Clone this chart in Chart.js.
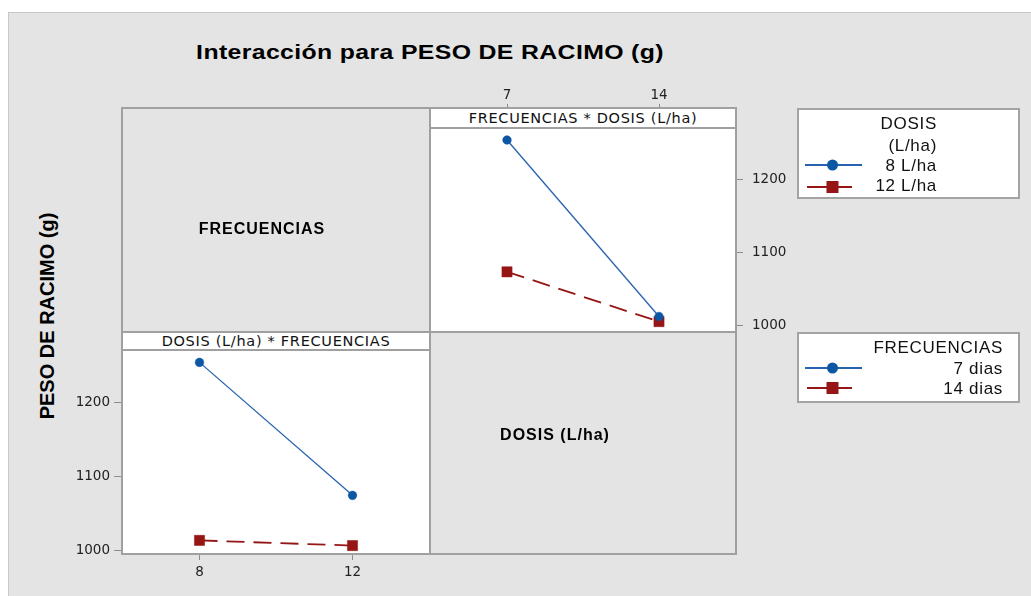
<!DOCTYPE html>
<html lang="es">
<head>
<meta charset="utf-8">
<title>Interacción para PESO DE RACIMO (g)</title>
<script src="https://cdn.jsdelivr.net/npm/chart.js@4.4.1/dist/chart.umd.min.js"></script>
<style>
  html, body { margin: 0; padding: 0; background: #ffffff; }
  body { width: 1031px; height: 596px; position: relative; overflow: hidden;
         font-family: "Liberation Sans", Arial, sans-serif; color: #000; }
  .abs { position: absolute; }
  #panel { left: 8px; top: 12px; width: 1040px; height: 600px; background: #e4e4e4;
           border: 1px solid #c8c8c8; box-sizing: border-box; }
  .plot { background: #ffffff; }
  canvas { position: absolute; }
  #frame { left: 121px; top: 107px; width: 616px; height: 448px; border: 2px solid #a0a0a0;
           box-sizing: border-box; }
  .line { background: #a0a0a0; }
  .strip { background: #ffffff; border-bottom: 2px solid #a0a0a0; box-sizing: content-box;
           font-family: "DejaVu Sans", sans-serif; font-size: 14.5px; letter-spacing: 0.7px;
           color: #111; text-align: center; line-height: 18px; white-space: nowrap; }
  .center { transform: translate(-50%, -50%); white-space: nowrap; line-height: 1; }
  #title { left: 430px; top: 52px; font-size: 20px; font-weight: bold;
           transform: translate(-50%, -50%) scaleX(1.24); letter-spacing: 0.3px; }
  .factor { font-size: 16px; font-weight: bold; letter-spacing: 1px; }
  #ytitle { left: 47px; top: 316px; font-size: 20px; font-weight: bold;
            transform: translate(-50%, -50%) rotate(-90deg); }
  .legbox { left: 797px; width: 223px; background: #fff; border: 2px solid #a3a3a3;
            box-sizing: border-box; }
  .legtxt { font-size: 17px; letter-spacing: 0.7px; line-height: 1; white-space: nowrap;
            transform: translateY(-50%); color: #111; }
</style>
</head>
<body>
<div id="panel" class="abs"></div>

<div id="title" class="abs center">Interacción para PESO DE RACIMO (g)</div>
<div id="ytitle" class="abs center">PESO DE RACIMO (g)</div>

<!-- white plotting regions of the two interaction panels -->
<div class="abs plot" style="left:431px;top:129px;width:304px;height:203px;"></div>
<div class="abs plot" style="left:123px;top:351px;width:306px;height:203px;"></div>

<canvas id="cTR" width="360" height="260" style="left:430px;top:80px;"></canvas>
<canvas id="cBL" width="380" height="250" style="left:60px;top:340px;"></canvas>

<!-- matrix frame -->
<div id="frame" class="abs"></div>
<div class="abs line" style="left:429px;top:107px;width:2px;height:448px;"></div>
<div class="abs line" style="left:121px;top:331px;width:616px;height:2px;"></div>

<div id="stripTR" class="abs strip" style="left:431px;top:109px;width:304px;height:18px;"></div>
<div id="stripBL" class="abs strip" style="left:123px;top:333px;width:306px;height:16px;line-height:16px;"></div>

<div id="labF" class="abs center factor" style="left:262px;top:229px;"></div>
<div id="labD" class="abs center factor" style="left:555px;top:435px;"></div>

<!-- legends -->
<div class="abs legbox" style="top:108px;height:91px;"></div>
<div class="abs legbox" style="top:332px;height:71px;"></div>
<svg class="abs" style="left:0;top:0;" width="1031" height="596" id="legsvg"></svg>
<div id="legtext"></div>

<script>
// Cell means of PESO DE RACIMO (g): frequency (7 / 14 dias) by dose (8 / 12 L/ha)
const frecuencias = ['7', '14'];
const dosis = ['8', '12'];
const dosisNombres = ['8 L/ha', '12 L/ha'];
const frecNombres = ['7 dias', '14 dias'];
const peso7dias = [1254, 1074];    // at 8 L/ha, 12 L/ha
const peso14dias = [1013, 1006];   // at 8 L/ha, 12 L/ha
const pesoTicks = [1000, 1100, 1200];

const tituloFrec = 'FRECUENCIAS';
const tituloDosis = 'DOSIS (L/ha)';

const BLUE = '#0b57a4';
const BLUE_LINE = '#2762b0';
const RED = '#961616';
const TICK_COLOR = '#8c8c8c';
const tickFont = { family: '"DejaVu Sans", sans-serif', size: 13.5 };

document.getElementById('stripTR').textContent = tituloFrec + ' * ' + tituloDosis;
document.getElementById('stripBL').textContent = tituloDosis + ' * ' + tituloFrec;
document.getElementById('labF').textContent = tituloFrec;
document.getElementById('labD').textContent = tituloDosis;

function blueSeries(label, data) {
  return { label, data, borderColor: BLUE_LINE, borderWidth: 1.3,
           pointStyle: 'circle', pointRadius: 4.3, pointBackgroundColor: BLUE,
           pointBorderColor: BLUE, pointBorderWidth: 0.5 };
}
function redSeries(label, data) {
  return { label, data, borderColor: RED, borderWidth: 1.8, borderDash: [18, 9],
           pointStyle: 'rect', pointRadius: 7.2, pointBackgroundColor: RED,
           pointBorderColor: RED, pointBorderWidth: 0.5 };
}
function setTicks(scale) { scale.ticks = pesoTicks.map(v => ({ value: v })); }
// fixed axis box size, without the extra label padding the layout would add
function fixSize(prop, size) {
  return s => {
    s[prop] = size;
    s.paddingTop = s.paddingBottom = s.paddingLeft = s.paddingRight = 0;
  };
}

const baseOptions = {
  responsive: false, animation: false, devicePixelRatio: 1,
  plugins: { legend: { display: false }, tooltip: { enabled: false } }
};

// FRECUENCIAS * DOSIS (L/ha): x = frequency, one line per dose
new Chart(document.getElementById('cTR'), {
  type: 'line',
  data: {
    labels: frecuencias,
    datasets: [
      blueSeries(dosisNombres[0], [peso7dias[0], peso14dias[0]]),
      redSeries(dosisNombres[1], [peso7dias[1], peso14dias[1]])
    ]
  },
  options: Object.assign({}, baseOptions, {
    layout: { autoPadding: false, padding: { left: 1, right: 0, top: 0, bottom: 8 } },
    scales: {
      x: { position: 'top', offset: true,
           grid: { offset: false, drawOnChartArea: false, tickLength: 25, color: TICK_COLOR },
           border: { display: false },
           ticks: { padding: 0, font: tickFont, color: '#222' },
           afterFit: fixSize('height', 49) },
      y: { position: 'right', min: 991.8, max: 1269,
           grid: { drawOnChartArea: false, tickLength: 8, color: TICK_COLOR },
           border: { display: false },
           ticks: { padding: 9, font: tickFont, color: '#222', callback: v => String(v) },
           afterBuildTicks: setTicks,
           afterFit: fixSize('width', 55) }
    }
  })
});

// DOSIS (L/ha) * FRECUENCIAS: x = dose, one line per frequency
new Chart(document.getElementById('cBL'), {
  type: 'line',
  data: {
    labels: dosis,
    datasets: [
      blueSeries(frecNombres[0], peso7dias),
      redSeries(frecNombres[1], peso14dias)
    ]
  },
  options: Object.assign({}, baseOptions, {
    layout: { autoPadding: false, padding: { left: 0, right: 11, top: 11, bottom: 0 } },
    scales: {
      x: { position: 'bottom', offset: true,
           grid: { offset: false, drawOnChartArea: false, tickLength: 6, color: TICK_COLOR },
           border: { display: false },
           ticks: { padding: 4, font: tickFont, color: '#222' },
           afterFit: fixSize('height', 36) },
      y: { position: 'left', min: 994.6, max: 1269.4,
           grid: { drawOnChartArea: false, tickLength: 9, color: TICK_COLOR },
           border: { display: false },
           ticks: { padding: 4, font: tickFont, color: '#222', callback: v => String(v) },
           afterBuildTicks: setTicks,
           afterFit: fixSize('width', 63) }
    }
  })
});

// Legends: keys (line + marker) and right-aligned text
const svgNS = 'http://www.w3.org/2000/svg';
const svg = document.getElementById('legsvg');
function svgEl(tag, attrs) {
  const e = document.createElementNS(svgNS, tag);
  for (const k in attrs) e.setAttribute(k, attrs[k]);
  svg.appendChild(e);
}
function blueKey(y) {
  svgEl('line', { x1: 805, y1: y, x2: 862, y2: y, stroke: BLUE_LINE, 'stroke-width': 2 });
  svgEl('circle', { cx: 832.5, cy: y, r: 5.5, fill: BLUE });
}
function redKey(y) {
  svgEl('line', { x1: 807, y1: y, x2: 852, y2: y, stroke: RED, 'stroke-width': 2 });
  svgEl('rect', { x: 826.5, y: y - 6, width: 12, height: 12, fill: RED });
}
blueKey(165); redKey(187);
blueKey(368); redKey(388);

const legtext = document.getElementById('legtext');
function legLine(text, right, y) {
  const d = document.createElement('div');
  d.className = 'abs legtxt';
  d.style.right = (1031 - right) + 'px';
  d.style.top = y + 'px';
  d.textContent = text;
  legtext.appendChild(d);
}
legLine('DOSIS', 937, 123);
legLine('(L/ha)', 937, 145);
legLine(dosisNombres[0], 937, 165);
legLine(dosisNombres[1], 937, 185);
legLine(tituloFrec, 1003, 347);
legLine(frecNombres[0], 1003, 368);
legLine(frecNombres[1], 1003, 388);
</script>
</body>
</html>
